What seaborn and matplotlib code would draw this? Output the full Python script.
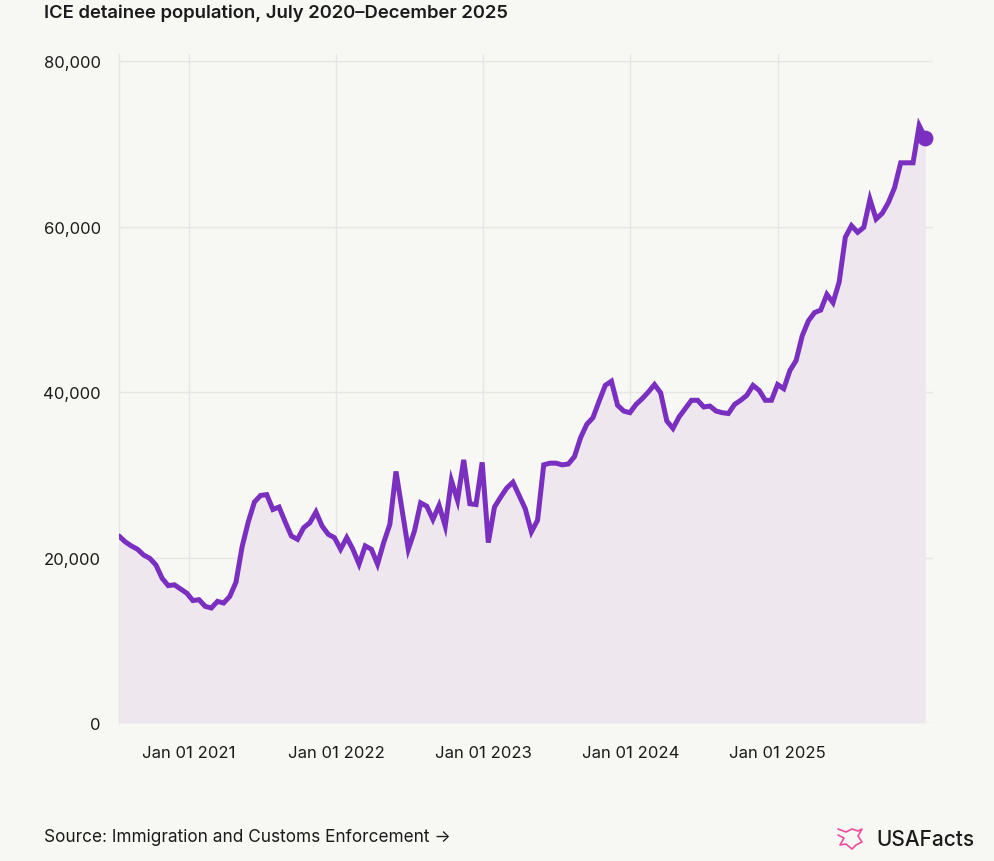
import pandas as pd
import seaborn as sns
import matplotlib.pyplot as plt
import matplotlib.dates as mdates
from matplotlib.ticker import FuncFormatter

# semi-monthly ICE detention counts
detainees = [
    22600, 21900, 21400, 21000, 20300, 19900, 19100, 17500, 16600, 16700,
    16200, 15700, 14800, 14900, 14100, 13900, 14700, 14500, 15300, 17000,
    21300, 24300, 26700, 27500, 27600, 25800, 26100, 24300, 22600, 22200,
    23600, 24200, 25500, 23800, 22800, 22400, 21000, 22400, 21000, 19200,
    21400, 21000, 19200, 21800, 24000, 30400, 25700, 21000, 23200, 26600,
    26200, 24600, 26300, 23800, 29300, 26900, 31800, 26500, 26400, 31500,
    21800, 26100, 27300, 28400, 29100, 27500, 25900, 23100, 24500, 31200,
    31400, 31400, 31200, 31300, 32200, 34500, 36100, 36900, 38900, 40800,
    41300, 38400, 37700, 37500, 38500, 39200, 40000, 40900, 39900, 36500,
    35600, 37000, 38000, 39000, 39000, 38200, 38300, 37700, 37500, 37400,
    38500, 39000, 39600, 40800, 40200, 39000, 39000, 40900, 40400, 42600,
    43800, 46800, 48600, 49600, 49900, 51800, 50800, 53300, 58700, 60100,
    59300, 59900, 63300, 60900, 61600, 62900, 64700, 67700, 67700, 67700,
    72200, 70700,
]
first_date = "2020-07-11"
last_date = "2026-01-02"
tick_years = [2021, 2022, 2023, 2024, 2025]
y_ticks = [0, 20000, 40000, 60000, 80000]

dates = pd.date_range(first_date, last_date, periods=len(detainees))
df = pd.DataFrame({"date": dates, "detainees": detainees})

BG = "#f7f7f3"
PURPLE = "#7b2fc0"
FILL = "#eee8ee"
GRID = "#e7e5e8"
INK = "#1b1b1b"

sns.set_theme(style="white")
plt.rcParams["font.family"] = ["Inter", "DejaVu Sans"]

fig = plt.figure(figsize=(9.95, 8.62), dpi=100, facecolor=BG)
ax = fig.add_axes([119 / 995, 138 / 862, 814 / 995, 669 / 862])
ax.set_facecolor(BG)

ax.fill_between(df["date"], df["detainees"], 0, color=FILL, lw=0, zorder=1)
sns.lineplot(data=df, x="date", y="detainees", color=PURPLE, lw=3.6,
             ax=ax, zorder=3, solid_joinstyle="miter")
ax.scatter(df["date"].iloc[-1], df["detainees"].iloc[-1], s=130,
           color=PURPLE, zorder=4, lw=0)

ax.set_xlim(df["date"].iloc[0], df["date"].iloc[-1] + pd.Timedelta(days=19))
ax.set_ylim(0, 80850)

ax.set_yticks(y_ticks)
ax.yaxis.set_major_formatter(FuncFormatter(lambda v, p: f"{int(v):,}"))
ax.set_xticks([pd.Timestamp(f"{y}-01-01") for y in tick_years])
ax.xaxis.set_major_formatter(mdates.DateFormatter("Jan 01 %Y"))

ax.grid(True, color=GRID, lw=1, zorder=0)
ax.set_axisbelow(True)
for side in ["top", "right", "bottom"]:
    ax.spines[side].set_visible(False)
ax.spines["left"].set_color(GRID)
ax.spines["left"].set_linewidth(1)
ax.tick_params(axis="both", length=0, labelsize=12, colors=INK)
ax.tick_params(axis="y", pad=13)
ax.tick_params(axis="x", pad=16)
ax.set_xlabel("")
ax.set_ylabel("")

fig.text(44 / 995, 1 - 13 / 862, "ICE detainee population, July 2020\u2013December 2025",
         fontsize=13.3, fontweight="semibold", color=INK, va="center", ha="left")
fig.text(44 / 995, 1 - 838 / 862, "Source: Immigration and Customs Enforcement \u2192",
         fontsize=12.4, color=INK, va="center", ha="left")

# logo mark + wordmark
logo_x = [838, 846, 852, 858, 862, 858, 862, 856, 852, 846, 840, 844, 838]
logo_y = [830, 833, 830, 832, 830, 837, 843, 846, 850, 845, 846, 839, 836]
fig.add_artist(plt.Line2D([x / 995 for x in logo_x], [1 - y / 862 for y in logo_y],
                          color="#ee4d9b", lw=1.2))
fig.text(975 / 995, 1 - 840 / 862, "USAFacts", fontsize=15, fontweight="medium",
         color=INK, va="center", ha="right")

fig.savefig("out.png", dpi=100, facecolor=BG)
